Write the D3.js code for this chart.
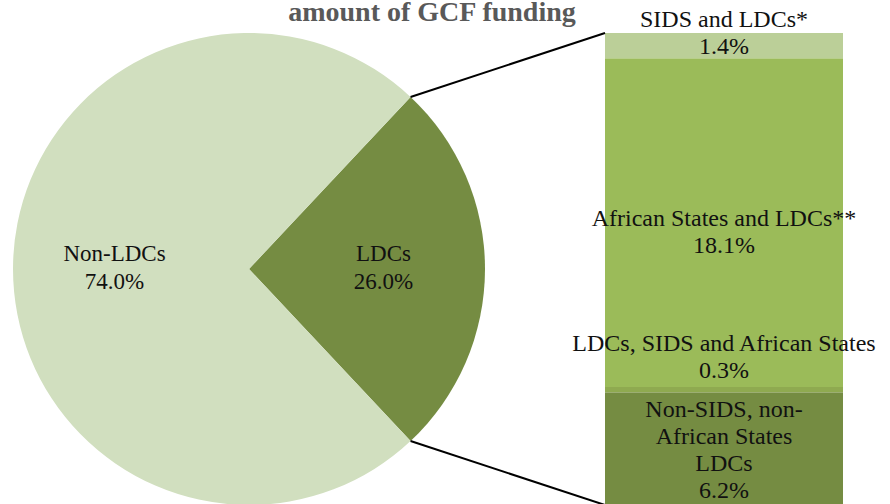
<!DOCTYPE html>
<html>
<head>
<meta charset="utf-8">
<script src="https://d3js.org/d3.v7.min.js"></script>
<style>
body { margin: 0; background: #fff; }
text { font-family: "Liberation Serif", "DejaVu Serif", serif; fill: #111; }
.title { font-weight: bold; fill: #595959; }
</style>
</head>
<body>
<script>
// pie: share of GCF funding
var pieNames = ["LDCs", "Non-LDCs"];
var pieValues = [26.0, 74.0];
var pieColors = ["#758c42", "#d1dfbf"];

// breakdown of the LDC slice (top to bottom)
var barNames = ["SIDS and LDCs*", "African States and LDCs**", "LDCs, SIDS and African States", "Non-SIDS, non-African States LDCs"];
var barLines = [["SIDS and LDCs*"], ["African States and LDCs**"], ["LDCs, SIDS and African States"], ["Non-SIDS, non-", "African States", "LDCs"]];
var barValues = [1.4, 18.1, 0.3, 6.2];
var barColors = ["#bbcf98", "#9bbb59", "#8faa50", "#758c42"];

var width = 890, height = 504;
var cx = 249, cy = 269, r = 236;

var svg = d3.select("body").append("svg")
  .attr("width", width)
  .attr("height", height);

svg.append("text")
  .attr("class", "title")
  .attr("x", 432)
  .attr("y", 21)
  .attr("text-anchor", "middle")
  .attr("font-size", 28)
  .text("amount of GCF funding");

// pie, LDC slice centred on the right side
var half = pieValues[0] / 100 * Math.PI;
var pie = d3.pie().sort(null)
  .startAngle(Math.PI / 2 - half)
  .endAngle(Math.PI / 2 - half + 2 * Math.PI);
var arcs = pie(pieValues);
var arc = d3.arc().innerRadius(0).outerRadius(r);
var labelArc = d3.arc().innerRadius(r * 0.57).outerRadius(r * 0.57);

var g = svg.append("g").attr("transform", "translate(" + cx + "," + cy + ")");
g.selectAll("path")
  .data(arcs)
  .enter()
  .append("path")
  .attr("fill", function(d, i) { return pieColors[i]; })
  .attr("d", arc);

g.selectAll("text")
  .data(arcs)
  .enter()
  .append("text")
  .attr("text-anchor", "middle")
  .attr("font-size", 23)
  .each(function(d, i) {
    var c = labelArc.centroid(d);
    var t = d3.select(this);
    t.append("tspan").attr("x", c[0]).attr("y", c[1] - 8).text(pieNames[i]);
    t.append("tspan").attr("x", c[0]).attr("y", c[1] + 20).text(pieValues[i].toFixed(1) + "%");
  });

// stacked bar
var bx0 = 605, bx1 = 843;
var total = d3.sum(barValues);
var y = d3.scaleLinear().domain([0, total]).range([33, 33 + 2 * r]);
var cum = 0;
var segs = barValues.map(function(v, i) {
  var s = { i: i, y0: cum, y1: cum + v };
  cum += v;
  return s;
});

svg.append("g").selectAll("rect")
  .data(segs)
  .enter()
  .append("rect")
  .attr("x", bx0)
  .attr("width", bx1 - bx0)
  .attr("y", function(d) { return y(d.y0); })
  .attr("height", function(d) { return y(d.y1) - y(d.y0); })
  .attr("fill", function(d) { return barColors[d.i]; });

// connector lines from slice edges to bar corners
var a0 = arcs[0].startAngle, a1 = arcs[0].endAngle;
var conn = [
  [cx + r * Math.sin(a0), cy - r * Math.cos(a0), bx0, y(0)],
  [cx + r * Math.sin(a1), cy - r * Math.cos(a1), bx0, y(total)]
];
svg.selectAll("line.conn")
  .data(conn)
  .enter()
  .append("line")
  .attr("class", "conn")
  .attr("x1", function(d) { return d[0]; })
  .attr("y1", function(d) { return d[1]; })
  .attr("x2", function(d) { return d[2]; })
  .attr("y2", function(d) { return d[3]; })
  .attr("stroke", "#000")
  .attr("stroke-width", 2);

// bar labels: block shift (px) so labels don't collide, as in the original
var shift = [-13, 9, -33, 1];
var lh = 27;
svg.append("g").selectAll("text")
  .data(segs)
  .enter()
  .append("text")
  .attr("text-anchor", "middle")
  .attr("font-size", 24)
  .each(function(d) {
    var lines = barLines[d.i].concat([barValues[d.i].toFixed(1) + "%"]);
    var mid = (y(d.y0) + y(d.y1)) / 2 + shift[d.i];
    var top = mid - (lines.length - 1) * lh / 2 + 8;
    var t = d3.select(this);
    lines.forEach(function(s, k) {
      t.append("tspan").attr("x", (bx0 + bx1) / 2).attr("y", top + k * lh).text(s);
    });
  });
</script>
</body>
</html>
